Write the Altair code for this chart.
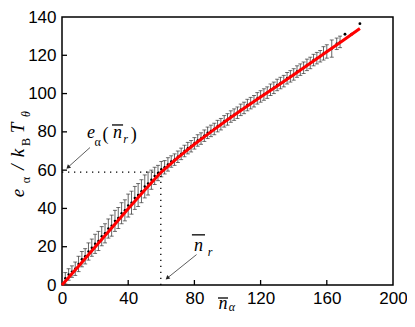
import altair as alt
import pandas as pd

# ---------------- data ----------------
fit_x = [0, 10, 20, 30, 40, 50, 60, 70, 80, 90, 100, 110, 120, 130, 140, 150, 160, 170, 180]
fit_y = [0, 9.8, 19.8, 29.8, 39.8, 49.6, 59.0, 66.5, 73.5, 80.0, 86.3, 92.3, 98.2, 104.0, 109.8, 115.8, 121.8, 127.8, 134.0]

pt_x = [2, 4, 6, 8, 10, 12, 14, 16, 18, 20, 22, 24, 26, 28, 30, 32, 34, 36, 38, 40,
        42, 44, 46, 48, 50, 52, 54, 56, 58, 60, 62, 64, 66, 68, 70, 72, 74, 76, 78, 80,
        82, 84, 86, 88, 90, 92, 94, 96, 98, 100, 102, 104, 106, 108, 110, 112, 114, 116, 118, 120,
        122, 124, 126, 128, 130, 132, 134, 136, 138, 140, 142, 144, 146, 148, 150, 152, 154, 156, 158, 160,
        163, 166, 168]
pt_y = [3.5, 5.5, 7.0, 8.5, 11.0, 13.5, 15.0, 17.5, 19.5, 21.5, 23.0, 25.5, 27.0, 29.5, 31.0, 33.5, 35.0, 37.5, 39.0, 41.5,
        43.0, 45.5, 47.0, 49.0, 51.5, 53.0, 55.0, 57.0, 58.5, 60.5, 61.5, 63.0, 64.5, 65.5, 67.0, 68.5, 70.0, 71.5, 72.5, 74.0,
        75.5, 76.5, 78.0, 79.5, 80.5, 81.5, 83.0, 84.0, 85.5, 86.5, 88.0, 89.0, 90.0, 91.5, 92.5, 94.0, 95.0, 96.0, 97.5, 98.5,
        99.5, 100.5, 102.0, 103.0, 104.5, 105.5, 106.5, 108.0, 109.0, 110.0, 111.5, 112.5, 113.5, 115.0, 116.0, 117.5, 118.5, 119.5, 121.0, 122.0,
        123.5, 126.0, 127.0]
pt_err = [3.0, 3.0, 3.0, 3.5, 4.0, 4.0, 4.0, 4.5, 4.5, 5.0, 5.0, 5.0, 5.0, 5.0, 5.5, 5.5, 5.5, 5.5, 5.5, 6.0,
          6.0, 6.0, 6.0, 6.0, 6.0, 6.0, 5.0, 4.5, 4.0, 4.0, 3.5, 3.5, 3.0, 3.0, 3.0, 3.0, 3.0, 3.0, 3.0, 3.0,
          3.0, 3.0, 3.0, 3.0, 3.0, 3.0, 3.0, 3.0, 3.0, 3.0, 3.0, 3.0, 3.0, 3.0, 3.0, 3.0, 3.0, 3.0, 3.0, 3.0,
          3.0, 3.0, 3.0, 3.0, 3.0, 3.0, 3.0, 3.0, 3.0, 3.0, 3.0, 3.0, 3.0, 3.0, 3.0, 3.0, 3.0, 3.0, 3.5, 3.5,
          4.5, 3.0, 3.0]

dot_x = [171, 175, 180]
dot_y = [131.0, 131.0, 136.5]

x_ticks = [0, 40, 80, 120, 160, 200]
y_ticks = [0, 20, 40, 60, 80, 100, 120, 140]

nr_x = 59.7   # critical n_r
er_y = 59.0   # e_alpha(n_r)

# annotation arrows (tail -> head) in data units
arrow_x = [16.9, 81.3]
arrow_y = [71.8, 15.9]
arrow_x2 = [3.6, 63.6]
arrow_y2 = [61.5, 3.6]
arrow_angle = [228, 230]

W, H = 331, 268
SERIF = "Liberation Serif"
SANS = "Liberation Sans"

xs = alt.Scale(domain=[0, 200], nice=False)
ys = alt.Scale(domain=[0, 140], nice=False)
XAX = alt.Axis(values=x_ticks, title=None, labelFlush=False, labelOverlap=False)
YAX = alt.Axis(values=y_ticks, title=None, labelFlush=False, labelOverlap=False)


def ex(field):
    return alt.X(field, scale=xs, axis=XAX)


def ey(field):
    return alt.Y(field, scale=ys, axis=YAX)


pts = pd.DataFrame({"x": pt_x, "y": pt_y, "e": pt_err})
pts["lo"] = pts["y"] - pts["e"]
pts["hi"] = pts["y"] + pts["e"]
caps = pd.DataFrame({"x": pt_x + pt_x, "y": list(pts["lo"]) + list(pts["hi"])})
fit = pd.DataFrame({"x": fit_x, "y": fit_y})
dots = pd.DataFrame({"x": dot_x, "y": dot_y})

bars = alt.Chart(pts).mark_rule(color="#666666", strokeWidth=1).encode(
    x=ex("x:Q"), y=ey("lo:Q"), y2="hi:Q")
capm = alt.Chart(caps).mark_tick(orient="horizontal", size=4, thickness=1, color="#333333").encode(
    x=ex("x:Q"), y=ey("y:Q"))
ptm = alt.Chart(pts).mark_circle(size=6, color="black", opacity=1).encode(
    x=ex("x:Q"), y=ey("y:Q"))
dotm = alt.Chart(dots).mark_circle(size=8, color="black", opacity=1).encode(
    x=ex("x:Q"), y=ey("y:Q"))
line = alt.Chart(fit).mark_line(color="#ff0000", strokeWidth=3).encode(
    x=ex("x:Q"), y=ey("y:Q"))

hdot = alt.Chart(pd.DataFrame({"x": [0], "x2": [nr_x], "y": [er_y]})).mark_rule(
    color="black", strokeWidth=1.3, strokeDash=[1.3, 4.7]).encode(
    x=ex("x:Q"), x2="x2:Q", y=ey("y:Q"))
vdot = alt.Chart(pd.DataFrame({"x": [nr_x], "y": [0], "y2": [er_y - 2]})).mark_rule(
    color="black", strokeWidth=1.3, strokeDash=[1.3, 4.7]).encode(
    x=ex("x:Q"), y=ey("y:Q"), y2="y2:Q")

arr = pd.DataFrame({"x": arrow_x, "y": arrow_y, "x2": arrow_x2, "y2": arrow_y2, "a": arrow_angle})
arrows = alt.Chart(arr).mark_rule(color="#333333", strokeWidth=0.8).encode(
    x=ex("x:Q"), y=ey("y:Q"), x2="x2:Q", y2="y2:Q")
heads = alt.Chart(arr).mark_point(shape="triangle-up", filled=True, size=22, color="#222222", opacity=1).encode(
    x=ex("x2:Q"), y=ey("y2:Q"), angle=alt.Angle("a:Q", scale=None))

# inward tick marks
xt = alt.Chart(pd.DataFrame({"x": x_ticks[1:-1]})).mark_rule(color="black", strokeWidth=1.3).encode(
    x=ex("x:Q"), y=alt.value(H), y2=alt.value(H - 5))
yt = alt.Chart(pd.DataFrame({"y": y_ticks[1:-1]})).mark_rule(color="black", strokeWidth=1.3).encode(
    y=ey("y:Q"), x=alt.value(0), x2=alt.value(5))

# in-plot annotation texts (data units)
ann_txt = ["e", "\u03b1", "(", "n", "r", ")", "n", "r"]
ann_x = [17.5, 21.5, 26.3, 33.5, 38.4, 43.3, 82.5, 89.4]
ann_y = [76.9, 72.8, 75.9, 76.9, 74.4, 75.9, 17.9, 15.4]
ann_size = [18, 12, 18, 18, 12, 18, 18, 12]
ann_style = ["italic", "normal", "normal", "italic", "italic", "normal", "italic", "italic"]
ann = pd.DataFrame({"t": ann_txt, "x": ann_x, "y": ann_y, "s": ann_size, "st": ann_style})
ann_layers = []
for s in sorted(set(ann_size)):
    for st in ["italic", "normal"]:
        sub = ann[(ann.s == s) & (ann.st == st)]
        if len(sub):
            ann_layers.append(alt.Chart(sub).mark_text(font=SERIF, fontSize=s, fontStyle=st, color="black",
                                                        baseline="alphabetic", align="center").encode(
                x=ex("x:Q"), y=ey("y:Q"), text="t:N"))

# overlines for n-bar annotations
ol = pd.DataFrame({"x": [30.2, 78.5], "x2": [36.9, 86.4], "y": [83.6, 26.2]})
olm = alt.Chart(ol).mark_rule(color="black", strokeWidth=1.3).encode(
    x=ex("x:Q"), x2="x2:Q", y=ey("y:Q"))


# axis titles (outside plot, pixel placed)
def ptxt(t, x, y, size, style="italic", angle=0):
    return alt.Chart(pd.DataFrame({"t": [t]})).mark_text(
        font=SERIF, fontSize=size, fontStyle=style, color="black", angle=angle,
        baseline="alphabetic", align="center").encode(text="t:N", x=alt.value(x), y=alt.value(y))


ytitle = [
    ptxt("e", -38, 176, 19, angle=270),
    ptxt("\u03b1", -32, 163, 12, style="normal", angle=270),
    ptxt("/", -38, 150, 19, angle=270),
    ptxt("k", -38, 136, 19, angle=270),
    ptxt("B", -32, 125, 12, style="normal", angle=270),
    ptxt("T", -38, 111, 19, angle=270),
    ptxt("\u03b8", -32, 97, 12, angle=270),
]
xtitle = [
    ptxt("n", 161, 292, 18),
    ptxt("\u03b1", 170, 294, 12),
    alt.Chart(pd.DataFrame({"a": [0]})).mark_rule(color="black", strokeWidth=1.3).encode(
        x=alt.value(156), x2=alt.value(166), y=alt.value(281)),
]

chart = alt.layer(
    bars, capm, ptm, dotm, line, hdot, vdot, arrows, heads, xt, yt, olm,
    *ann_layers, *ytitle, *xtitle
).properties(
    width=W, height=H,
    autosize=alt.AutoSizeParams(type="none"),
    padding={"left": 54, "top": 9, "right": 14, "bottom": 28},
).configure_view(
    stroke="black", strokeWidth=1.5
).configure_axis(
    domain=False, grid=False, ticks=False, tickSize=0,
    labelFont=SANS, labelFontSize=17, labelColor="black",
).configure_axisX(labelPadding=5).configure_axisY(labelPadding=6)

chart.save("out.html", embed_options={"renderer": "svg", "actions": False})
